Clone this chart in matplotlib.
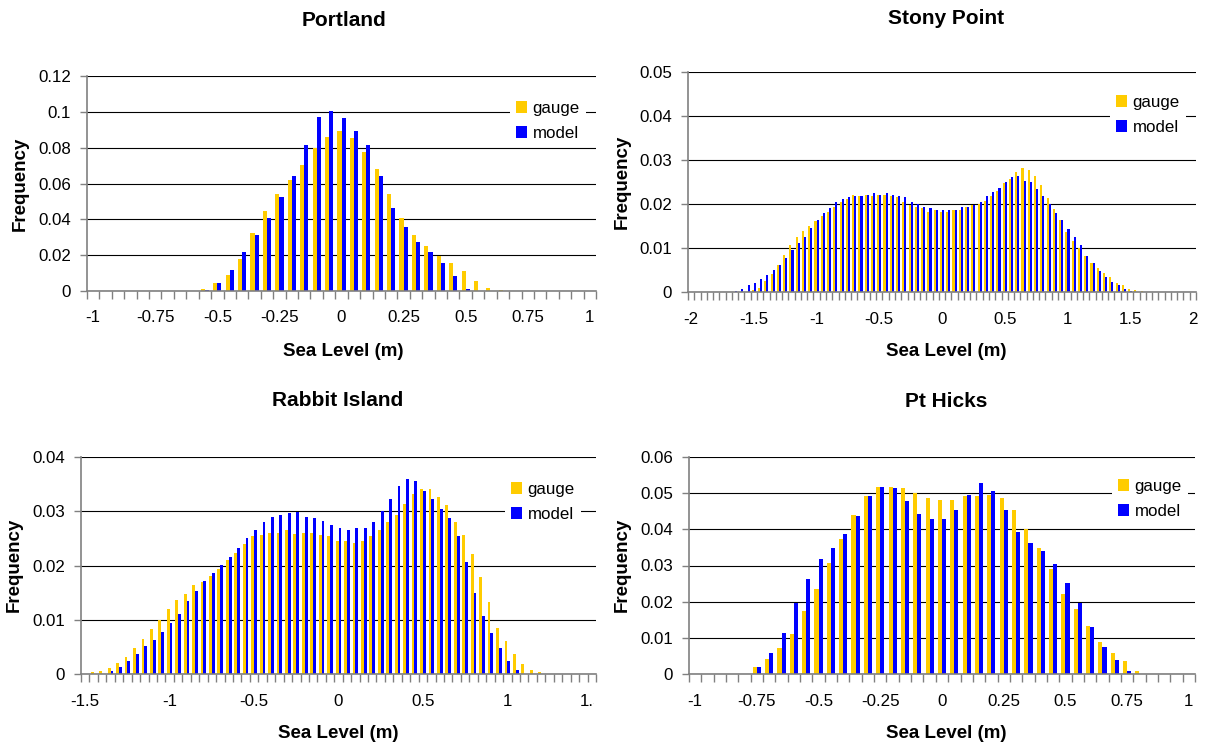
import numpy as np
import matplotlib
matplotlib.use("Agg")
import matplotlib.pyplot as plt
from matplotlib.patches import Patch
from matplotlib.transforms import Bbox, TransformedBbox

plt.rcParams['font.family'] = ['Liberation Sans', 'DejaVu Sans']

# --- DATA (frequency per 0.05 m bin) ---
portland_bins = np.round(np.arange(-1.0, 1.0 + 1e-9, 0.05), 2)
portland_gauge = [0, 0, 0, 0, 0, 0, 0, 0, 0, 0.001, 0.0045, 0.0087, 0.0177, 0.0322,
                  0.0445, 0.054, 0.0618, 0.0701, 0.080, 0.0858, 0.0891, 0.0852, 0.0774,
                  0.0679, 0.054, 0.0406, 0.031, 0.025, 0.0194, 0.0154, 0.011, 0.0054,
                  0.0015, 0.0004, 0, 0, 0, 0, 0, 0, 0]
portland_model = [0, 0, 0, 0, 0, 0, 0, 0, 0, 0.0005, 0.0045, 0.0115, 0.0216, 0.031,
                  0.0406, 0.0523, 0.064, 0.0813, 0.097, 0.1003, 0.0964, 0.0891, 0.0813,
                  0.064, 0.0461, 0.0355, 0.0272, 0.0216, 0.0154, 0.0082, 0.001, 0,
                  0, 0, 0, 0, 0, 0, 0, 0, 0]

stony_bins = np.round(np.arange(-2.0, 2.0 + 1e-9, 0.05), 2)
stony_gauge = [0, 0, 0, 0, 0, 0, 0, 0, 0, 0.0002, 0.0005, 0.001, 0.0025, 0.0041,
               0.0063, 0.0086, 0.0108, 0.0126, 0.014, 0.0151, 0.0162, 0.0174, 0.0183,
               0.0194, 0.0205, 0.0212, 0.0221, 0.0219, 0.0222, 0.0219, 0.0222, 0.0222,
               0.0219, 0.0216, 0.0205, 0.0198, 0.0194, 0.0191, 0.0182, 0.0187, 0.0182,
               0.0182, 0.0187, 0.0187, 0.0194, 0.0198, 0.0202, 0.0209, 0.022, 0.023,
               0.0248, 0.0257, 0.0273, 0.0282, 0.0278, 0.0264, 0.0244, 0.0214, 0.0189,
               0.0164, 0.0137, 0.0116, 0.0102, 0.0084, 0.0068, 0.0055, 0.0044, 0.0035,
               0.0021, 0.0017, 0.0008, 0.0006, 0.0004, 0, 0, 0, 0, 0, 0, 0, 0]
stony_model = [0, 0, 0, 0, 0, 0, 0, 0.0004, 0.0008, 0.0017, 0.0022, 0.0031, 0.004, 0.0052,
               0.0063, 0.0079, 0.0097, 0.0113, 0.0126, 0.0147, 0.0165, 0.018, 0.0192,
               0.0205, 0.0212, 0.0216, 0.0219, 0.0219, 0.0222, 0.0226, 0.0222, 0.0226,
               0.0222, 0.0219, 0.0216, 0.0205, 0.0202, 0.0194, 0.0191, 0.0187, 0.0187,
               0.0187, 0.0187, 0.0194, 0.0194, 0.0198, 0.0205, 0.0219, 0.0229, 0.0237,
               0.025, 0.0262, 0.0264, 0.0253, 0.025, 0.0235, 0.0219, 0.0201, 0.018,
               0.0164, 0.0144, 0.0125, 0.0107, 0.0084, 0.0066, 0.0048, 0.0035, 0.0024,
               0.0017, 0.0008, 0.0004, 0, 0, 0, 0, 0, 0, 0, 0, 0, 0]

rabbit_bins = np.round(np.arange(-1.5, 1.5 + 1e-9, 0.05), 2)
rabbit_gauge = [0, 0.0004, 0.0006, 0.0012, 0.002, 0.0032, 0.0049, 0.0065, 0.0084, 0.01,
                0.012, 0.0137, 0.0148, 0.0165, 0.017, 0.0181, 0.0194, 0.0211, 0.0224,
                0.0239, 0.0254, 0.0257, 0.0261, 0.0261, 0.0265, 0.0259, 0.0261, 0.0261,
                0.0257, 0.0254, 0.0246, 0.0246, 0.0241, 0.0246, 0.0254, 0.0265, 0.028,
                0.0294, 0.0313, 0.0331, 0.0342, 0.0342, 0.0326, 0.0311, 0.0281, 0.0257,
                0.0222, 0.018, 0.0133, 0.0085, 0.0061, 0.0037, 0.0019, 0.0007, 0.0004,
                0, 0, 0, 0, 0, 0]
rabbit_model = [0, 0, 0, 0.0006, 0.0014, 0.0025, 0.0038, 0.0053, 0.0063, 0.0078,
                0.0095, 0.0111, 0.0135, 0.0154, 0.0172, 0.0187, 0.0202, 0.0216, 0.0233,
                0.025, 0.0265, 0.0281, 0.0289, 0.0294, 0.0296, 0.0298, 0.0289, 0.0287,
                0.0283, 0.0274, 0.0269, 0.0265, 0.0269, 0.027, 0.0281, 0.03, 0.0322,
                0.0346, 0.0359, 0.0355, 0.0338, 0.0322, 0.0305, 0.0287, 0.0254, 0.0206,
                0.015, 0.0107, 0.0076, 0.0048, 0.0024, 0.0007, 0, 0, 0,
                0, 0, 0, 0, 0, 0]

hicks_bins = np.round(np.arange(-1.0, 1.0 + 1e-9, 0.05), 2)
hicks_gauge = [0, 0, 0, 0, 0, 0.0019, 0.0042, 0.0073, 0.0111, 0.0175, 0.0235, 0.0307,
               0.0373, 0.0439, 0.0492, 0.0517, 0.0517, 0.0514, 0.050, 0.0486, 0.0481,
               0.0481, 0.0492, 0.0492, 0.0494, 0.0486, 0.0453, 0.0401, 0.0348, 0.029,
               0.0222, 0.018, 0.0133, 0.0089, 0.0059, 0.0037, 0.0009, 0, 0, 0, 0]
hicks_model = [0, 0, 0, 0, 0, 0.0019, 0.0059, 0.0114, 0.0197, 0.0263, 0.0318, 0.0348,
               0.0387, 0.0437, 0.0492, 0.0517, 0.0514, 0.0478, 0.0442, 0.0428, 0.0428,
               0.0453, 0.0494, 0.0528, 0.0506, 0.0453, 0.0392, 0.0362, 0.034, 0.0304,
               0.0252, 0.0197, 0.013, 0.0075, 0.004, 0.0009, 0, 0, 0, 0, 0]

# axis ticks / labels
xticks_1 = [-1, -0.75, -0.5, -0.25, 0, 0.25, 0.5, 0.75, 1]
xlabels_1 = ['-1', '-0.75', '-0.5', '-0.25', '0', '0.25', '0.5', '0.75', '1']
xticks_2 = [-2, -1.5, -1, -0.5, 0, 0.5, 1, 1.5, 2]
xlabels_2 = ['-2', '-1.5', '-1', '-0.5', '0', '0.5', '1', '1.5', '2']
xticks_15 = [-1.5, -1, -0.5, 0, 0.5, 1, 1.5]
xlabels_15 = ['-1.5', '-1', '-0.5', '0', '0.5', '1', '1.5']

portland_yticks = [0, 0.02, 0.04, 0.06, 0.08, 0.1, 0.12]
portland_ylabels = ['0', '0.02', '0.04', '0.06', '0.08', '0.1', '0.12']
stony_yticks = [0, 0.01, 0.02, 0.03, 0.04, 0.05]
stony_ylabels = ['0', '0.01', '0.02', '0.03', '0.04', '0.05']
rabbit_yticks = [0, 0.01, 0.02, 0.03, 0.04]
rabbit_ylabels = ['0', '0.01', '0.02', '0.03', '0.04']
hicks_yticks = [0, 0.01, 0.02, 0.03, 0.04, 0.05, 0.06]
hicks_ylabels = ['0', '0.01', '0.02', '0.03', '0.04', '0.05', '0.06']

# --- STYLE ---
W, H = 1215, 745
GAUGE = '#FFCC00'
MODEL = '#0000FF'
AXIS_GREY = '#808080'
STEP = 0.05


def fx(px):
    return px / W


def fy(py):
    return 1 - py / H


def panel(fig, box, bins, gauge, model, xt, xl, yt, yl, title, title_xy,
          xlab_xy, ylab_xy, legend_xy, clip_right=None):
    left, right, top, bottom = box
    ax = fig.add_axes([fx(left), fy(bottom), (right - left) / W, (bottom - top) / H])
    w = STEP / 3
    ax.bar(bins - w / 2, gauge, width=w, color=GAUGE, linewidth=0)
    ax.bar(bins + w / 2, model, width=w, color=MODEL, linewidth=0)

    ax.set_xlim(bins[0] - STEP / 2, bins[-1] + STEP / 2)
    ax.set_ylim(0, yt[-1])
    ax.set_axisbelow(True)
    ax.yaxis.grid(True, color='black', linewidth=0.8)

    for s in ('top', 'right'):
        ax.spines[s].set_visible(False)
    for s in ('left', 'bottom'):
        ax.spines[s].set_color(AXIS_GREY)
        ax.spines[s].set_linewidth(1.2)

    ax.set_yticks(yt)
    ax.set_yticklabels(yl)
    ax.set_xticks(xt)
    ax.set_xticklabels(xl)
    edges = np.append(bins - STEP / 2, bins[-1] + STEP / 2)
    ax.set_xticks(edges, minor=True)
    ax.tick_params(axis='x', which='major', length=0, pad=14, labelsize=12.2)
    ax.tick_params(axis='x', which='minor', length=6, width=1, color=AXIS_GREY)
    ax.tick_params(axis='y', length=5, width=1, color=AXIS_GREY, pad=6.5, labelsize=12.2)

    if clip_right is not None:
        cb = TransformedBbox(Bbox.from_extents(0, 0, fx(clip_right), 1), fig.transFigure)
        for lbl in ax.get_xticklabels():
            lbl.set_clip_on(True)
            lbl.set_clip_box(cb)

    fig.text(fx(title_xy[0]), fy(title_xy[1]), title, ha='center', va='center',
             fontsize=15, fontweight='bold')
    fig.text(fx(xlab_xy[0]), fy(xlab_xy[1]), 'Sea Level (m)', ha='center', va='center',
             fontsize=13.5, fontweight='bold')
    fig.text(fx(ylab_xy[0]), fy(ylab_xy[1]), 'Frequency', ha='center', va='center',
             rotation=90, fontsize=13.5, fontweight='bold')

    handles = [Patch(facecolor=GAUGE, edgecolor='none'),
               Patch(facecolor=MODEL, edgecolor='none')]
    leg = ax.legend(handles, ['gauge', 'model'], loc='center',
                    bbox_to_anchor=(fx(legend_xy[0]), fy(legend_xy[1])),
                    bbox_transform=fig.transFigure, frameon=True, fancybox=False,
                    facecolor='white', edgecolor='none', framealpha=1,
                    fontsize=12.2, handlelength=0.65, handleheight=0.65,
                    handletextpad=0.3, labelspacing=0.6, borderpad=0.35,
                    borderaxespad=0)
    leg.set_zorder(5)
    return ax


def main():
    fig = plt.figure(figsize=(W / 100, H / 100), dpi=100)

    panel(fig, (87, 596, 76, 291), portland_bins, portland_gauge, portland_model,
          xticks_1, xlabels_1, portland_yticks, portland_ylabels, 'Portland',
          (344, 20), (343, 351), (20, 184), (548, 121), clip_right=594)
    panel(fig, (688, 1196, 72.5, 292.5), stony_bins, stony_gauge, stony_model,
          xticks_2, xlabels_2, stony_yticks, stony_ylabels, 'Stony Point',
          (946, 18), (946, 351), (622, 182), (1148, 115))
    panel(fig, (81, 596, 457, 674.3), rabbit_bins, rabbit_gauge, rabbit_model,
          xticks_15, xlabels_15, rabbit_yticks, rabbit_ylabels, 'Rabbit Island',
          (338, 400), (338, 733), (14, 565), (543, 502), clip_right=594)
    panel(fig, (689, 1195, 456.7, 674.3), hicks_bins, hicks_gauge, hicks_model,
          xticks_1, xlabels_1, hicks_yticks, hicks_ylabels, 'Pt Hicks',
          (946, 402), (946, 733), (622, 565), (1150, 499))

    fig.savefig('out.png', dpi=100)


if __name__ == "__main__":
    main()
